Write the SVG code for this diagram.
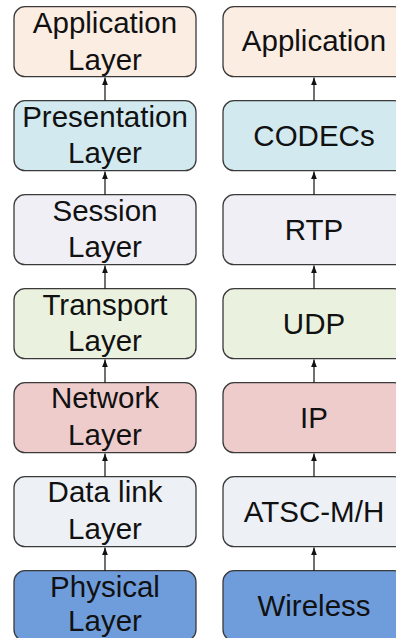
<svg xmlns="http://www.w3.org/2000/svg" width="396" height="638" viewBox="0 0 396 638">
  <style>
    .box { stroke: #3a3a3a; stroke-width: 1.3; }
    .lbl { font-family: "Liberation Sans", Arial, sans-serif; font-size: 29.5px; fill: #111; text-anchor: middle; }
    .arrow { stroke: #111; stroke-width: 1.2; fill: none; marker-end: url(#head); }
    .app { fill: #fcede3; }
    .pres { fill: #d2e9ef; }
    .sess { fill: #f0eff5; }
    .trans { fill: #ebf1df; }
    .net { fill: #eecccc; }
    .link { fill: #edf0f5; }
    .phys { fill: #6f9ddb; }
  </style>
  <defs>
    <marker id="head" viewBox="0 0 8 6" refX="8" refY="3" markerWidth="8" markerHeight="6" markerUnits="userSpaceOnUse" orient="auto">
      <path d="M0,0 L8,3 L0,6 z" fill="#111"/>
    </marker>
  </defs>

  <rect width="396" height="638" fill="#ffffff"/>

  <!-- OSI reference model column -->
  <g id="osi-application">
    <rect class="box app" x="14" y="6.7" width="182" height="70" rx="11"/>
    <text class="lbl" x="105" y="33"><tspan x="105">Application</tspan><tspan x="105" y="69.5">Layer</tspan></text>
  </g>
  <g id="osi-presentation">
    <rect class="box pres" x="14" y="100.7" width="182" height="70" rx="11"/>
    <text class="lbl" x="105" y="126.5"><tspan x="105">Presentation</tspan><tspan x="105" y="163">Layer</tspan></text>
  </g>
  <g id="osi-session">
    <rect class="box sess" x="14" y="194.7" width="182" height="70" rx="11"/>
    <text class="lbl" x="105" y="220.5"><tspan x="105">Session</tspan><tspan x="105" y="257">Layer</tspan></text>
  </g>
  <g id="osi-transport">
    <rect class="box trans" x="14" y="288.7" width="182" height="70" rx="11"/>
    <text class="lbl" x="105" y="314.5"><tspan x="105">Transport</tspan><tspan x="105" y="351">Layer</tspan></text>
  </g>
  <g id="osi-network">
    <rect class="box net" x="14" y="382.7" width="182" height="70" rx="11"/>
    <text class="lbl" x="105" y="408"><tspan x="105">Network</tspan><tspan x="105" y="444.5">Layer</tspan></text>
  </g>
  <g id="osi-datalink">
    <rect class="box link" x="14" y="476.7" width="182" height="70" rx="11"/>
    <text class="lbl" x="105" y="502"><tspan x="105">Data link</tspan><tspan x="105" y="538.5">Layer</tspan></text>
  </g>
  <g id="osi-physical">
    <rect class="box phys" x="14" y="570.7" width="182" height="70" rx="11"/>
    <text class="lbl" x="105" y="596.5"><tspan x="105">Physical</tspan><tspan x="105" y="631">Layer</tspan></text>
  </g>

  <!-- ATSC-M/H protocol stack column -->
  <g id="stack-application">
    <rect class="box app" x="223" y="6.7" width="182" height="70" rx="11"/>
    <text class="lbl" x="314" y="51">Application</text>
  </g>
  <g id="stack-codecs">
    <rect class="box pres" x="223" y="100.7" width="182" height="70" rx="11"/>
    <text class="lbl" x="314" y="145.5">CODECs</text>
  </g>
  <g id="stack-rtp">
    <rect class="box sess" x="223" y="194.7" width="182" height="70" rx="11"/>
    <text class="lbl" x="314" y="239.5">RTP</text>
  </g>
  <g id="stack-udp">
    <rect class="box trans" x="223" y="288.7" width="182" height="70" rx="11"/>
    <text class="lbl" x="314" y="333.5">UDP</text>
  </g>
  <g id="stack-ip">
    <rect class="box net" x="223" y="382.7" width="182" height="70" rx="11"/>
    <text class="lbl" x="314" y="427.5">IP</text>
  </g>
  <g id="stack-atsc">
    <rect class="box link" x="223" y="476.7" width="182" height="70" rx="11"/>
    <text class="lbl" x="314" y="521.5">ATSC-M/H</text>
  </g>
  <g id="stack-wireless">
    <rect class="box phys" x="223" y="570.7" width="182" height="70" rx="11"/>
    <text class="lbl" x="314" y="615.5">Wireless</text>
  </g>

  <!-- upward connectors between layers -->
  <g id="connectors">
    <line class="arrow" x1="105" y1="100.7" x2="105" y2="77.4"/>
    <line class="arrow" x1="105" y1="194.7" x2="105" y2="171.4"/>
    <line class="arrow" x1="105" y1="288.7" x2="105" y2="265.4"/>
    <line class="arrow" x1="105" y1="382.7" x2="105" y2="359.4"/>
    <line class="arrow" x1="105" y1="476.7" x2="105" y2="453.4"/>
    <line class="arrow" x1="105" y1="570.7" x2="105" y2="547.4"/>
    <line class="arrow" x1="314" y1="100.7" x2="314" y2="77.4"/>
    <line class="arrow" x1="314" y1="194.7" x2="314" y2="171.4"/>
    <line class="arrow" x1="314" y1="288.7" x2="314" y2="265.4"/>
    <line class="arrow" x1="314" y1="382.7" x2="314" y2="359.4"/>
    <line class="arrow" x1="314" y1="476.7" x2="314" y2="453.4"/>
    <line class="arrow" x1="314" y1="570.7" x2="314" y2="547.4"/>
  </g>
</svg>
